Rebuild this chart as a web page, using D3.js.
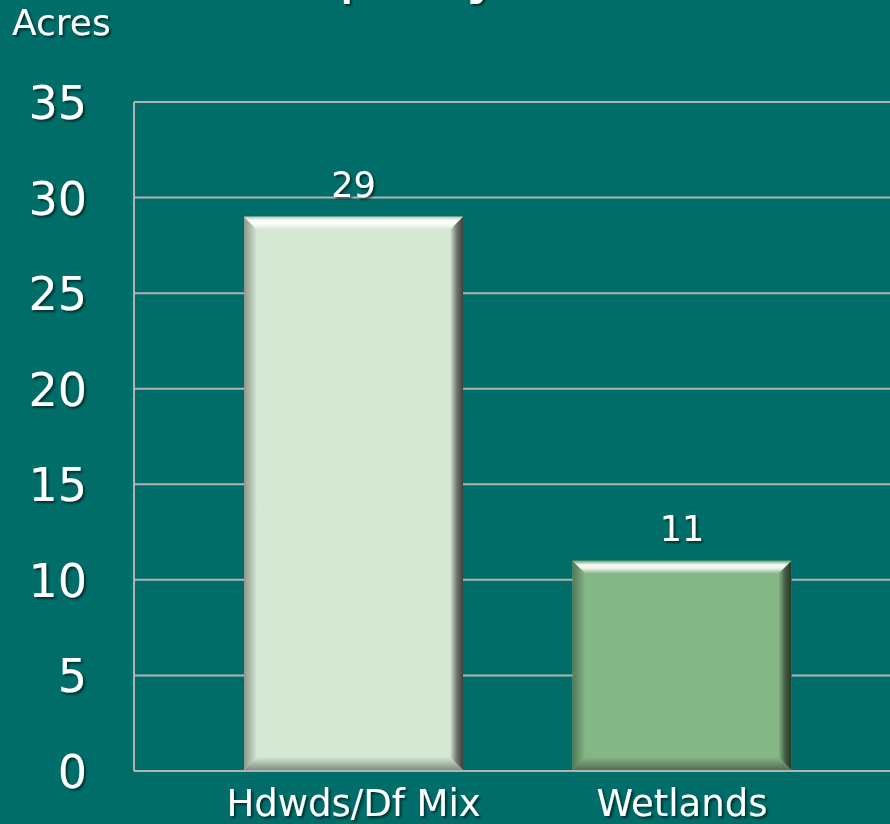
<!DOCTYPE html>
<html>
<head>
<meta charset="utf-8">
<script src="https://cdn.jsdelivr.net/npm/d3@7.9.0/dist/d3.min.js"></script>
<style>
  html, body { margin: 0; padding: 0; background: #006d69; }
  svg { display: block; }
  text { font-family: "DejaVu Sans", Verdana, sans-serif; fill: #fff; }
</style>
</head>
<body>
<svg id="chart" width="890" height="824"></svg>
<script>
// ---- data ----
const categories = ["Hdwds/Df Mix", "Wetlands"];
const acres = [29, 11];
const barColors = ["#d5e8d4", "#84b785"];
const yTicks = [0, 5, 10, 15, 20, 25, 30, 35];
const title = "Property Attributes";
const yLabel = "Acres";

const W = 890, H = 824;
const svg = d3.select("#chart");

// text shadow filter
const defs = svg.append("defs");
const shadow = defs.append("filter").attr("id", "txtShadow")
  .attr("x", "-10%").attr("y", "-10%").attr("width", "130%").attr("height", "140%");
shadow.append("feDropShadow")
  .attr("dx", 2).attr("dy", 2).attr("stdDeviation", 1)
  .attr("flood-color", "#000").attr("flood-opacity", 0.55);

// ---- scales ----
const x = d3.scaleBand()
  .domain(categories)
  .range([189.25, 846.25])
  .paddingInner(1 / 3)
  .paddingOuter(1 / 6);

const y = d3.scaleLinear().domain([0, 35]).range([771, 102]);

const plotLeft = 134;

// ---- gridlines ----
svg.append("g")
  .selectAll("line")
  .data(yTicks)
  .join("line")
  .attr("x1", plotLeft)
  .attr("x2", W)
  .attr("y1", d => y(d))
  .attr("y2", d => y(d))
  .attr("stroke", "#b3b3b3")
  .attr("stroke-width", 2);

// vertical axis line
svg.append("line")
  .attr("x1", plotLeft).attr("x2", plotLeft)
  .attr("y1", y(35)).attr("y2", y(0))
  .attr("stroke", "#b3b3b3")
  .attr("stroke-width", 2);

// ---- tick labels ----
svg.append("g")
  .attr("filter", "url(#txtShadow)")
  .selectAll("text")
  .data(yTicks)
  .join("text")
  .attr("x", 87)
  .attr("y", d => y(d))
  .attr("dy", "0.37em")
  .attr("text-anchor", "end")
  .attr("font-size", 46)
  .text(d => d);

// ---- bars with bevel ----
const bev = 13;

function grad(id, x2, y2, stops) {
  const g = defs.append("linearGradient").attr("id", id)
    .attr("x1", 0).attr("y1", 0).attr("x2", x2).attr("y2", y2);
  stops.forEach(([o, c]) => g.append("stop").attr("offset", o).attr("stop-color", c));
}

const bars = svg.append("g");
categories.forEach((cat, i) => {
  const fill = barColors[i];
  const x0 = x(cat), x1 = x(cat) + x.bandwidth();
  const y0 = y(acres[i]), y1 = y(0) - 1;
  const c = d3.color(fill);
  const hi = d3.interpolateRgb(fill, "#ffffff")(0.9);

  grad(`top${i}`, 0, 1, [[0, c.darker(0.4)], [0.3, hi], [0.55, hi], [1, fill]]);
  grad(`right${i}`, 1, 0, [[0, fill], [0.5, c.darker(1.8)], [1, c.darker(3.6)]]);
  grad(`bottom${i}`, 0, 1, [[0, fill], [1, c.darker(1.4)]]);
  grad(`left${i}`, 1, 0, [[0, c.darker(1.2)], [1, fill]]);

  const g = bars.append("g");
  g.append("rect")
    .attr("x", x0).attr("y", y0)
    .attr("width", x1 - x0).attr("height", y1 - y0)
    .attr("fill", fill);
  g.append("path")
    .attr("d", `M${x0},${y0}L${x0 + bev},${y0 + bev}L${x0 + bev},${y1 - bev}L${x0},${y1}Z`)
    .attr("fill", `url(#left${i})`);
  g.append("path")
    .attr("d", `M${x0},${y1}L${x1},${y1}L${x1 - bev},${y1 - bev}L${x0 + bev},${y1 - bev}Z`)
    .attr("fill", `url(#bottom${i})`);
  g.append("path")
    .attr("d", `M${x0},${y0}L${x1},${y0}L${x1 - bev},${y0 + bev}L${x0 + bev},${y0 + bev}Z`)
    .attr("fill", `url(#top${i})`);
  g.append("path")
    .attr("d", `M${x1},${y0}L${x1},${y1}L${x1 - bev},${y1 - bev}L${x1 - bev},${y0 + bev}Z`)
    .attr("fill", `url(#right${i})`);
});

// ---- value labels ----
svg.append("g")
  .attr("filter", "url(#txtShadow)")
  .selectAll("text")
  .data(categories)
  .join("text")
  .attr("x", d => x(d) + x.bandwidth() / 2)
  .attr("y", (d, i) => y(acres[i]) - 20)
  .attr("text-anchor", "middle")
  .attr("font-size", 35)
  .text((d, i) => acres[i]);

// ---- category labels ----
svg.append("g")
  .attr("filter", "url(#txtShadow)")
  .selectAll("text")
  .data(categories)
  .join("text")
  .attr("x", d => x(d) + x.bandwidth() / 2)
  .attr("y", 816)
  .attr("text-anchor", "middle")
  .attr("font-size", 37)
  .text(d => d);

// ---- axis title and chart title (cut off at top) ----
svg.append("text")
  .attr("filter", "url(#txtShadow)")
  .attr("x", 12).attr("y", 35)
  .attr("font-size", 36)
  .text(yLabel);

svg.append("text")
  .attr("filter", "url(#txtShadow)")
  .attr("x", 534).attr("y", -9)
  .attr("text-anchor", "middle")
  .attr("font-size", 62)
  .text(title);
</script>
</body>
</html>
